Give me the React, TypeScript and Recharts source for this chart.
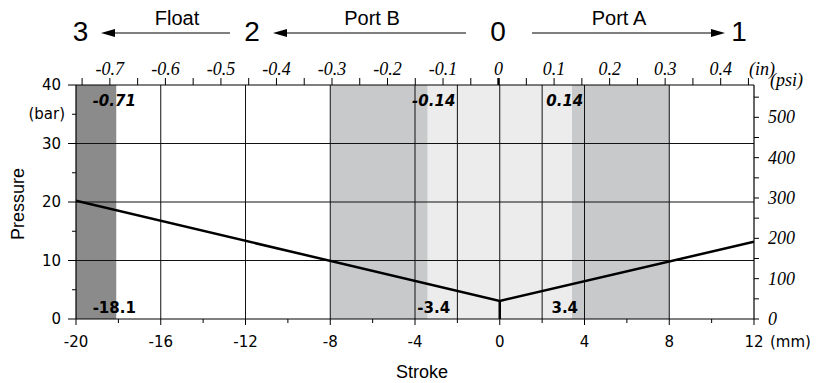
import { ComposedChart, Line, XAxis, YAxis, ReferenceArea, ReferenceLine } from 'recharts'

// pressure vs stroke curve
const strokeMm = [-20, 0, 12]
const pressureBar = [20.2, 3.1, 13.2]

// axis ticks
const mmTicks = [-20, -18, -16, -14, -12, -10, -8, -6, -4, -2, 0, 2, 4, 6, 8, 10, 12]
const barTicks = [0, 5, 10, 15, 20, 25, 30, 35, 40]
const psiTicks = [0, 50, 100, 150, 200, 250, 300, 350, 400, 450, 500, 550]
const inTicks = [
  -0.75, -0.7, -0.65, -0.6, -0.55, -0.5, -0.45, -0.4, -0.35, -0.3, -0.25, -0.2, -0.15, -0.1, -0.05,
  0, 0.05, 0.1, 0.15, 0.2, 0.25, 0.3, 0.35, 0.4, 0.45,
]

// grid
const gridMm = [-16, -12, -8, -4, -2, 0, 2, 4, 8]
const gridBar = [10, 20, 30]

// zones (mm)
const floatZone = [-20, -18.1]
const portBZone = [-8, -3.4]
const portAZone = [3.4, 8]
const centerZone = [-3.4, 3.4]

// edge annotations
const edgeMarks = [-18.1, -3.4, 3.4]
const edgeTopLabels = ['-0.71', '-0.14', '0.14']
const edgeBottomLabels = ['-18.1', '-3.4', '3.4']

const BAR_TO_PSI = 14.5038
const MM_PER_IN = 25.4

const rows = strokeMm.map((s, i) => ({ s, inch: s / MM_PER_IN, p: pressureBar[i] }))

const sans = 'DejaVu Sans, Verdana, sans-serif'
const serif = 'Liberation Serif, Times New Roman, serif'
const helv = 'Liberation Sans, Arial, sans-serif'

function MmTick({ x, y, payload }: any) {
  const v = payload.value
  const major = v % 4 === 0
  return (
    <g>
      <line x1={x} x2={x} y1={y} y2={y + (major ? 6 : 4)} stroke="#000" />
      {major && (
        <text x={x} y={y + 28} textAnchor="middle" fontFamily={sans} fontSize={15} fill="#000">
          {v}
        </text>
      )}
    </g>
  )
}

function InTick({ x, y, payload }: any) {
  const v = payload.value
  const major = Math.abs(Math.round(v * 100)) % 10 === 0
  return (
    <g>
      <line x1={x} x2={x} y1={y} y2={y - 7} stroke="#000" strokeWidth={v === 0 ? 2.5 : 1} />
      {major && (
        <text x={x} y={y - 10} textAnchor="middle" fontFamily={serif} fontStyle="italic" fontSize={18} fill="#000">
          {v === 0 ? '0' : v.toFixed(1)}
        </text>
      )}
    </g>
  )
}

function BarTick({ x, y, payload }: any) {
  const v = payload.value
  const major = v % 10 === 0
  const len = major ? 8 : 4
  const label = major ? String(v) : v === 35 ? '(bar)' : ''
  return (
    <g>
      <line x1={x - len} x2={x} y1={y} y2={y} stroke="#000" />
      {label && (
        <text x={x - len - 7} y={y} textAnchor="end" dominantBaseline="central" fontFamily={sans} fontSize={15} fill="#000">
          {label}
        </text>
      )}
    </g>
  )
}

function PsiTick({ x, y, payload }: any) {
  const v = payload.value
  const major = v % 100 === 0
  return (
    <g>
      <line x1={x} x2={x + 5} y1={y} y2={y} stroke="#000" />
      {major && (
        <text x={x + 14} y={y} dominantBaseline="central" fontFamily={serif} fontStyle="italic" fontSize={18} fill="#000">
          {v}
        </text>
      )}
    </g>
  )
}

function EdgeLabel({ viewBox, top, bottom, dx }: any) {
  const { x, y, height } = viewBox
  return (
    <g fontFamily={sans} fontWeight="bold" fontSize={15} fill="#000">
      <text x={x + dx} y={y + 21} textAnchor="middle" fontStyle="italic">
        {top}
      </text>
      <text x={x + dx} y={y + height - 6} textAnchor="middle">
        {bottom}
      </text>
    </g>
  )
}

const edgeDx = [-2, 6, -7]

function Arrow({ from, to, y }: { from: number; to: number; y: number }) {
  const dir = to > from ? 1 : -1
  const base = to - dir * 14
  return (
    <g>
      <line x1={from} x2={base} y1={y} y2={y} stroke="#000" strokeWidth={1.2} />
      <polygon points={`${to},${y} ${base},${y - 4} ${base},${y + 4}`} fill="#000" />
    </g>
  )
}

export default function App() {
  const ax = { xAxisId: 'mm', yAxisId: 'bar' }
  return (
    <div style={{ position: 'absolute', left: 0, top: 0, width: 817, height: 383, background: '#fff' }}>
      <ComposedChart width={817} height={383} data={rows} margin={{ top: 55, right: 13, bottom: 34, left: 16 }}>
        <XAxis
          xAxisId="mm"
          dataKey="s"
          type="number"
          domain={[-20, 12]}
          ticks={mmTicks}
          interval={0}
          allowDataOverflow
          axisLine={false}
          tickLine={false}
          tickSize={0}
          tickMargin={0}
          height={30}
          tick={<MmTick />}
        />
        <XAxis
          xAxisId="in"
          dataKey="inch"
          orientation="top"
          type="number"
          domain={[-0.761, 0.46]}
          ticks={inTicks}
          interval={0}
          allowDataOverflow
          axisLine={false}
          tickLine={false}
          tickSize={0}
          tickMargin={0}
          height={30}
          tick={<InTick />}
        />
        <YAxis
          yAxisId="bar"
          type="number"
          domain={[0, 40]}
          ticks={barTicks}
          interval={0}
          allowDataOverflow
          axisLine={false}
          tickLine={false}
          tickSize={0}
          tickMargin={0}
          width={60}
          tick={<BarTick />}
        />
        <YAxis
          yAxisId="psi"
          orientation="right"
          type="number"
          domain={[0, 40 * BAR_TO_PSI]}
          ticks={psiTicks}
          interval={0}
          allowDataOverflow
          axisLine={false}
          tickLine={false}
          tickSize={0}
          tickMargin={0}
          width={50}
          tick={<PsiTick />}
        />

        <ReferenceArea {...ax} x1={floatZone[0]} x2={floatZone[1]} y1={0} y2={40} fill="#8b8b8b" fillOpacity={1} stroke="none" />
        <ReferenceArea {...ax} x1={portBZone[0]} x2={portBZone[1]} y1={0} y2={40} fill="#c8c9cb" fillOpacity={1} stroke="none" />
        <ReferenceArea {...ax} x1={portAZone[0]} x2={portAZone[1]} y1={0} y2={40} fill="#c8c9cb" fillOpacity={1} stroke="none" />
        <ReferenceArea {...ax} x1={centerZone[0]} x2={centerZone[1]} y1={0} y2={40} fill="#ebeceb" fillOpacity={1} stroke="none" />

        {gridBar.map((v) => (
          <ReferenceLine key={'h' + v} {...ax} y={v} stroke="#111" strokeWidth={1} />
        ))}
        {gridMm.map((v) => (
          <ReferenceLine key={'v' + v} {...ax} x={v} stroke="#111" strokeWidth={1} />
        ))}
        <ReferenceLine {...ax} y={0} stroke="#000" strokeWidth={1.2} />
        <ReferenceLine {...ax} y={40} stroke="#000" strokeWidth={1.2} />
        <ReferenceLine {...ax} x={-20} stroke="#000" strokeWidth={1.2} />
        <ReferenceLine {...ax} x={12} stroke="#000" strokeWidth={1.2} />

        {edgeMarks.map((v, i) => (
          <ReferenceLine
            key={'e' + v}
            {...ax}
            x={v}
            stroke="none"
            label={<EdgeLabel top={edgeTopLabels[i]} bottom={edgeBottomLabels[i]} dx={edgeDx[i]} />}
          />
        ))}

        <ReferenceLine
          {...ax}
          segment={[
            { x: 0, y: 0 },
            { x: 0, y: Math.min(...pressureBar) },
          ]}
          stroke="#000"
          strokeWidth={2.5}
        />

        <Line
          {...ax}
          type="linear"
          dataKey="p"
          stroke="#000"
          strokeWidth={2.5}
          dot={false}
          isAnimationActive={false}
        />
      </ComposedChart>

      <svg width={817} height={383} style={{ position: 'absolute', left: 0, top: 0, pointerEvents: 'none' }}>
        <g fontFamily={helv} fill="#000">
          <text x={80.5} y={41} fontSize={28} textAnchor="middle">3</text>
          <text x={252} y={41} fontSize={28} textAnchor="middle">2</text>
          <text x={498} y={41} fontSize={28} textAnchor="middle">0</text>
          <text x={739} y={41} fontSize={28} textAnchor="middle">1</text>
          <text x={177} y={25} fontSize={20} textAnchor="middle">Float</text>
          <text x={372} y={25} fontSize={20} textAnchor="middle">Port B</text>
          <text x={619} y={25} fontSize={20} textAnchor="middle">Port A</text>
          <text x={422} y={378} fontSize={18} textAnchor="middle">Stroke</text>
          <text transform="translate(24,204) rotate(-90)" fontSize={18} textAnchor="middle">Pressure</text>
        </g>
        <Arrow from={230} to={101} y={33} />
        <Arrow from={466} to={273} y={33} />
        <Arrow from={532} to={725} y={33} />
        <text x={770} y={347} fontFamily={sans} fontSize={15}>(mm)</text>
        <text x={749} y={75} fontFamily={serif} fontStyle="italic" fontSize={18}>(in)</text>
        <text x={770} y={86} fontFamily={serif} fontStyle="italic" fontSize={18}>(psi)</text>
      </svg>
    </div>
  )
}
